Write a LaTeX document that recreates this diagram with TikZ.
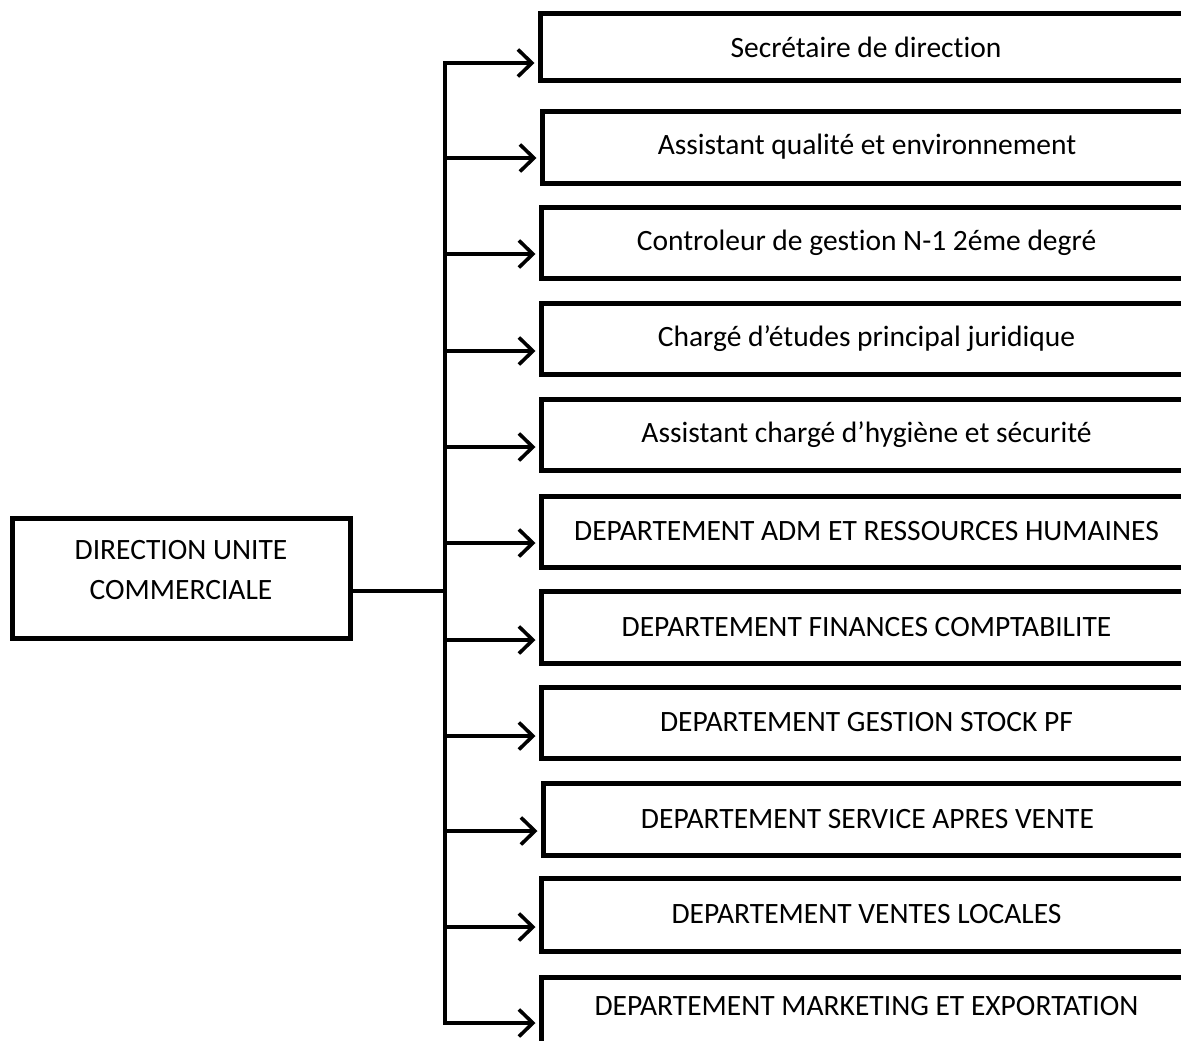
\documentclass[tikz,border=0pt]{standalone}
\usepackage{fontspec}
\setmainfont{Carlito}[Ligatures={NoCommon}]
\usetikzlibrary{arrows.meta}
\begin{document}
\begin{tikzpicture}[x=1pt,y=-1pt,
  box/.style={draw=black,line width=5pt,rectangle,inner sep=0pt,font=\fontsize{29.5}{40}\selectfont},
  conn/.style={draw=black,line width=3.6pt},
  arr/.style={conn,-{Straight Barb[length=14pt,width=27pt,line width=3.6pt]},shorten >=3pt}]
\useasboundingbox (0,0) rectangle (1181,1041);
\clip (0,0) rectangle (1181,1041);
\fill[white] (0,0) rectangle (1181,1041);
% root
\node[box,minimum width=338pt,minimum height=120pt] (root) at (181,578)
  {\raisebox{0pt}[0pt][0pt]{\begin{tabular}{@{}c@{}}DIRECTION UNITE\\COMMERCIALE\end{tabular}}};
% right boxes
\node[box,minimum width=652pt,minimum height=67pt] (b1) at (866,47.5) {Secrétaire de direction};
\node[box,minimum width=650pt,minimum height=72pt] (b2) at (867,147) {Assistant qualité et environnement};
\node[box,minimum width=651pt,minimum height=71pt] (b3) at (866.5,242.5) {Controleur de gestion N-1 2éme degré};
\node[box,minimum width=651pt,minimum height=71pt] (b4) at (866.5,338.5) {Chargé d’études principal juridique};
\node[box,minimum width=651pt,minimum height=71pt] (b5) at (866.5,434.5) {Assistant chargé d’hygiène et sécurité};
\node[box,minimum width=651pt,minimum height=71pt] (b6) at (866.5,531.5) {DEPARTEMENT ADM ET RESSOURCES HUMAINES};
\node[box,minimum width=651pt,minimum height=72pt] (b7) at (866.5,627) {DEPARTEMENT FINANCES COMPTABILITE};
\node[box,minimum width=651pt,minimum height=71pt] (b8) at (866.5,722.5) {DEPARTEMENT GESTION STOCK PF};
\node[box,minimum width=649pt,minimum height=72pt] (b9) at (867.5,819) {DEPARTEMENT SERVICE APRES VENTE};
\node[box,minimum width=651pt,minimum height=73pt] (b10) at (866.5,914.5) {DEPARTEMENT VENTES LOCALES};
\node[box,minimum width=651pt,minimum height=90pt,anchor=north] (b11) at (866.5,975) {};
\node[font=\fontsize{29.5}{40}\selectfont,inner sep=0pt] (t11) at (866.5,1006) {DEPARTEMENT MARKETING ET EXPORTATION};
% junctions
\coordinate (j1) at (445,63);
\coordinate (j2) at (445,158);
\coordinate (j3) at (445,254);
\coordinate (j4) at (445,351);
\coordinate (j5) at (445,447);
\coordinate (j6) at (445,543);
\coordinate (j7) at (445,640);
\coordinate (j8) at (445,736);
\coordinate (j9) at (445,831);
\coordinate (j10) at (445,927);
\coordinate (j11) at (445,1023);
\coordinate (rj) at (445,591);
\draw[conn,line cap=rect] (j1) -- (j11);
\draw[conn] (rj -| root.east) -- (rj);
\foreach \i in {1,...,11}{
  \draw[arr] (j\i) -- (j\i -| b\i.west);
}
\end{tikzpicture}
\end{document}
